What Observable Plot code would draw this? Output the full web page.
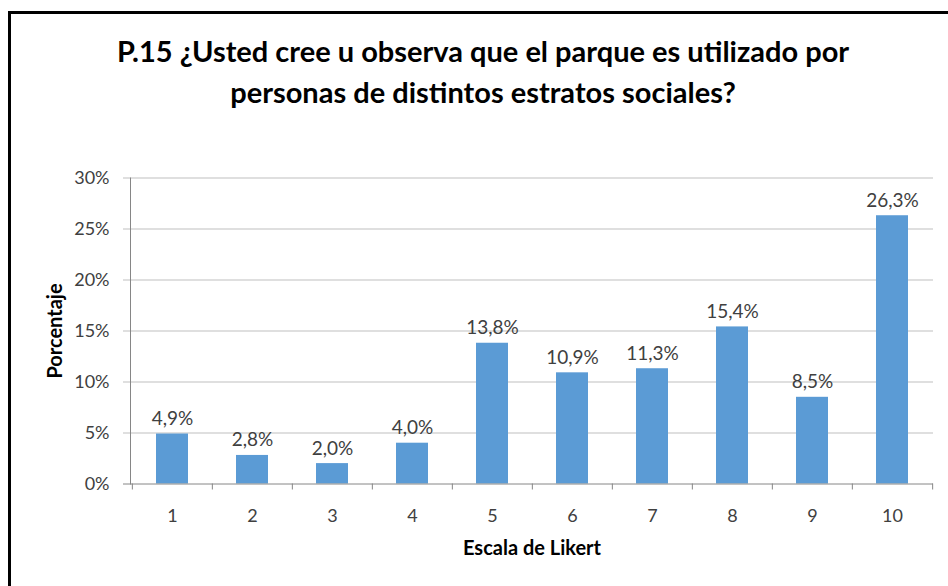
<!DOCTYPE html>
<html>
<head>
<meta charset="utf-8">
<script src="https://cdn.jsdelivr.net/npm/d3@7"></script>
<script src="https://cdn.jsdelivr.net/npm/@observablehq/plot@0.6"></script>
<style>
  html, body { margin: 0; padding: 0; background: #fff; }
  body { width: 948px; height: 586px; position: relative; overflow: hidden; font-family: Lato, "Open Sans", sans-serif; }
  #frame { position: absolute; left: 8px; top: 11px; width: 960px; height: 600px; border-top: 3px solid #000; border-left: 3px solid #000; box-sizing: border-box; }
  #title { position: absolute; left: 0; width: 966px; top: 30px; text-align: center; font-weight: bold; font-size: 29px; line-height: 41px; color: #000; }
  #chart { position: absolute; left: 0; top: 150px; width: 948px; }
</style>
</head>
<body>
<div id="frame"></div>
<div id="title">P.15 ¿Usted cree u observa que el parque es utilizado por<br>personas de distintos estratos sociales?</div>
<div id="chart"></div>
<script>
const categories = ["1", "2", "3", "4", "5", "6", "7", "8", "9", "10"];
const values = [4.9, 2.8, 2.0, 4.0, 13.8, 10.9, 11.3, 15.4, 8.5, 26.3];
const yTicks = [0, 5, 10, 15, 20, 25, 30];
const xLabel = "Escala de Likert";
const yLabel = "Porcentaje";

const data = categories.map((c, i) => ({cat: c, value: values[i]}));

const W = 948, H = 436;
const mL = 130, mR = 15, mT = 27.5, mB = 102.5;
const half = (W - mL - mR) / categories.length / 2;
const fmt = v => v.toFixed(1).replace(".", ",") + "%";

const chart = Plot.plot({
  width: W,
  height: H,
  marginLeft: mL,
  marginRight: mR,
  marginTop: mT,
  marginBottom: mB,
  style: { fontFamily: "Lato, 'Open Sans', sans-serif", fontSize: "18px", color: "#404040", background: "transparent" },
  x: { domain: categories, paddingInner: 0.6, paddingOuter: 0.3, align: 0.5, label: null },
  y: { domain: [0, 30], label: null },
  marks: [
    Plot.ruleY(yTicks.slice(1), { y: d => d, stroke: "#bfbfbf", insetLeft: -7 }),
    Plot.barY(data, { x: "cat", y: "value", fill: "#5b9bd5" }),
    Plot.text(data, { x: "cat", y: "value", text: d => fmt(d.value), lineAnchor: "bottom", dy: -9, fill: "#404040", fontSize: 19 }),
    Plot.frame({ anchor: "left", stroke: "#868686" }),
    Plot.ruleY([0], { stroke: "#868686", insetLeft: -7 }),
    Plot.ruleX(categories, { x: d => d, y1: 0, y2: 0, dx: -half, insetBottom: -6, stroke: "#868686" }),
    Plot.ruleX(categories.slice(-1), { x: d => d, y1: 0, y2: 0, dx: half, insetBottom: -6, stroke: "#868686" }),
    Plot.axisY(yTicks, { tickSize: 0, tickPadding: 21, tickFormat: d => d + "%", fontSize: 18, fill: "#404040" }),
    Plot.axisX({ tickSize: 0, tickPadding: 25, fontSize: 18, fill: "#404040", label: null }),
    Plot.text([xLabel], { frameAnchor: "bottom", dy: 71, text: d => d, fontWeight: "bold", fontSize: 20, fill: "#000" }),
    Plot.text([yLabel], { frameAnchor: "left", textAnchor: "middle", dx: -75, rotate: -90, text: d => d, fontWeight: "bold", fontSize: 20, fill: "#000" })
  ]
});
document.getElementById("chart").appendChild(chart);
</script>
</body>
</html>
